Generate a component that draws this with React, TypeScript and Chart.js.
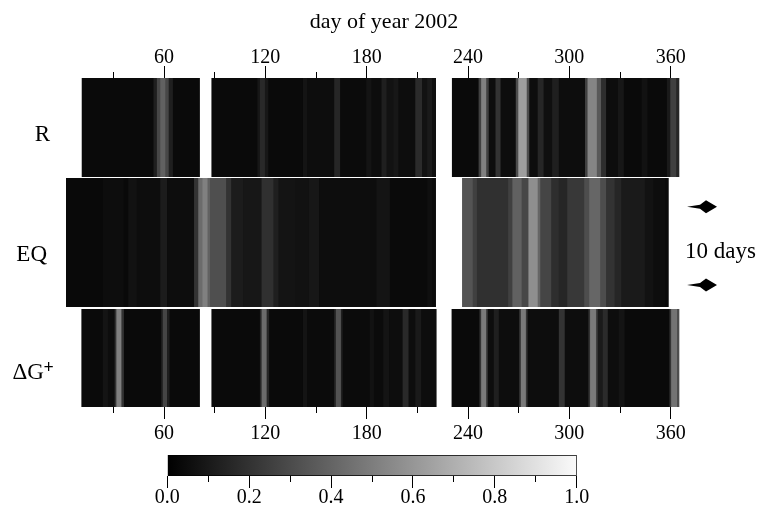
import { useEffect, useRef } from 'react';
import { Chart, registerables } from 'chart.js';

Chart.register(...registerables);

const FONT = '"Liberation Serif", "Times New Roman", serif';

// ---------------- data ----------------
const axisTitle = 'day of year 2002';
const dayTicks = [30, 60, 90, 120, 150, 180, 210, 240, 270, 300, 330, 360];
const colorbarTicks = [0, 0.1, 0.2, 0.3, 0.4, 0.5, 0.6, 0.7, 0.8, 0.9, 1.0];
const rowLabels = ['R', 'EQ', 'ΔG+'];
const sideNote = '10 days';

// [startDay, endDay, value] : covered days with their base level
const rCoverage = [[11.5, 81, 0.04], [88.3, 220.8, 0.04], [230.7, 365, 0.04]];
const eqCoverage = [[1.95, 220.7, 0.035], [236.9, 358.6, 0.04]];
const dgCoverage = [[11.3, 81, 0.04], [88.3, 221, 0.04], [230.5, 365, 0.04]];

// [startDay, endDay, value] : brighter bands
const rBands = [
  [54, 56, 0.12], [56, 58, 0.28], [58, 61, 0.38], [61, 63, 0.28], [63, 65, 0.12],
  [115.5, 117, 0.09], [117, 120, 0.16], [120, 121.5, 0.09],
  [142.5, 145, 0.08], [145, 161, 0.05], [161, 164.5, 0.15], [164.5, 180, 0.045],
  [180, 183, 0.08], [183, 189, 0.05], [189, 192, 0.12], [192, 196, 0.07], [196, 199, 0.09],
  [199, 209, 0.05], [209, 213, 0.17], [213, 216, 0.07], [216, 219, 0.1], [219, 220.8, 0.06],
  [246.5, 248, 0.25], [248, 251, 0.5], [251, 252.5, 0.25], [252.5, 256.5, 0.05],
  [256.5, 259.5, 0.2], [259.5, 268.5, 0.05], [268.5, 270, 0.3], [270, 275, 0.62],
  [275, 276.5, 0.3], [276.5, 281.5, 0.05], [281.5, 285, 0.15], [285, 290, 0.06],
  [290, 294, 0.12], [294, 309.5, 0.05], [309.5, 311, 0.25], [311, 316.5, 0.52],
  [316.5, 319, 0.35], [319, 322, 0.18], [322, 329, 0.05], [329, 332, 0.09],
  [343, 346, 0.07], [358, 360, 0.1], [360, 363.5, 0.25], [363.5, 365, 0.15],
];

const eqBands = [
  [24, 36, 0.05], [39, 44, 0.07], [44, 58, 0.05], [58, 62, 0.11],
  [62, 78, 0.05], [78, 80.5, 0.2], [80.5, 83, 0.42], [83, 86, 0.5], [86, 87.5, 0.38],
  [87.5, 97, 0.31], [97, 100, 0.2], [100, 107, 0.11], [107, 118, 0.09], [118, 125, 0.19],
  [125, 128, 0.12], [128, 138, 0.08], [138, 146, 0.07], [146, 152, 0.09], [152, 186, 0.05],
  [186, 194, 0.08], [194, 216, 0.04], [216, 219, 0.06], [219, 220.7, 0.045],
  [236.9, 243, 0.33], [243, 245.5, 0.25], [245.5, 264, 0.19], [264, 266.5, 0.25],
  [266.5, 272, 0.38], [272, 276, 0.28], [276, 281.5, 0.56], [281.5, 283, 0.4],
  [283, 289.5, 0.27], [289.5, 294, 0.18], [294, 299, 0.15], [299, 309, 0.22],
  [309, 312, 0.3], [312, 318.5, 0.4], [318.5, 322, 0.3], [322, 327, 0.2],
  [327, 331, 0.15], [331, 345, 0.1], [345, 350, 0.07], [350, 356.5, 0.05],
];

const dgBands = [
  [24, 27, 0.08], [27, 31, 0.05], [31, 32, 0.2], [32, 35, 0.5], [35, 36, 0.2],
  [58.5, 59.5, 0.12], [59.5, 62, 0.27], [62, 63, 0.12],
  [117, 118, 0.15], [118, 121, 0.42], [121, 122, 0.15], [142.5, 145, 0.08],
  [145, 161, 0.045], [161, 162, 0.15], [162, 165, 0.32], [165, 166, 0.12],
  [166, 182, 0.045], [182, 184.5, 0.07], [184.5, 190, 0.045], [190, 193.5, 0.08],
  [193.5, 201.5, 0.05], [201.5, 205, 0.16], [205, 209, 0.05], [209, 212.5, 0.1],
  [212.5, 221, 0.05],
  [247, 248, 0.2], [248, 251, 0.48], [251, 252, 0.2], [252, 255.5, 0.05],
  [255.5, 258.5, 0.12], [258.5, 270.5, 0.05], [270.5, 271.5, 0.2], [271.5, 274.5, 0.48],
  [274.5, 275.5, 0.2], [275.5, 294, 0.05], [294, 297.5, 0.2], [297.5, 311.5, 0.05],
  [311.5, 312.5, 0.2], [312.5, 316, 0.48], [316, 317, 0.25], [317, 320, 0.1],
  [320, 323, 0.17], [323, 329.5, 0.05], [329.5, 332.5, 0.08], [359.5, 360.5, 0.2],
  [360.5, 364, 0.45], [364, 365, 0.3],
];

// ---------------- layout ----------------
const rowLayout = [
  { pos: 0.1505, thickness: 99 },
  { pos: 0.5, thickness: 129 },
  { pos: 0.851, thickness: 98 },
];
const INFLATE = 0.4;
const MAJOR_DASH: number[] = [];
const MINOR_DASH = [6, 100];

function gray(v: number) {
  const g = Math.round(Math.max(0, Math.min(1, v)) * 255);
  return `rgb(${g},${g},${g})`;
}

function isMajorDay(v: number) {
  return Math.round(v) % 60 === 0;
}

const overlayPlugin = {
  id: 'overlay',
  afterDraw(chart: any) {
    const { ctx } = chart;
    ctx.save();
    ctx.fillStyle = '#000';
    ctx.textBaseline = 'alphabetic';
    ctx.textAlign = 'center';
    ctx.font = `22px ${FONT}`;
    ctx.fillText(axisTitle, 384, 28);

    ctx.font = `23px ${FONT}`;
    ctx.fillText(rowLabels[0], 42.5, 141);
    ctx.fillText(rowLabels[1], 31.7, 261);
    ctx.textAlign = 'left';
    ctx.fillText(rowLabels[2].slice(0, 2), 12.5, 379);
    ctx.font = `bold 18px ${FONT}`;
    ctx.fillText(rowLabels[2].slice(2), 43.5, 373);

    ctx.font = `23px ${FONT}`;
    ctx.fillText(sideNote, 685, 258);

    for (const cy of [206.7, 285]) {
      ctx.beginPath();
      ctx.moveTo(687, cy);
      ctx.lineTo(700, cy - 2);
      ctx.lineTo(706, cy - 6.5);
      ctx.lineTo(717, cy);
      ctx.lineTo(706, cy + 6.5);
      ctx.lineTo(700, cy + 2);
      ctx.closePath();
      ctx.fill();
    }
    ctx.restore();
  },
};

function dayAxis(position: 'top' | 'bottom') {
  const top = position === 'top';
  return {
    type: 'linear',
    position,
    min: 1.95,
    max: 365.1,
    stacked: false,
    offset: false,
    afterBuildTicks: (s: any) => {
      s.ticks = dayTicks.map((v) => ({ value: v }));
    },
    afterFit: (s: any) => {
      s.height = top ? 78 : 105;
    },
    border: { display: false },
    grid: {
      offset: false,
      drawOnChartArea: false,
      drawTicks: true,
      tickLength: 12,
      tickColor: '#000',
      tickWidth: 1,
      tickBorderDash: (c: any) => {
        const v = c.tick ? c.tick.value : dayTicks[c.index];
        return isMajorDay(v) ? MAJOR_DASH : MINOR_DASH;
      },
      tickBorderDashOffset: (c: any) => {
        const v = c.tick ? c.tick.value : dayTicks[c.index];
        return top && !isMajorDay(v) ? 100 : 0;
      },
    },
    ticks: {
      autoSkip: false,
      maxTicksLimit: 100,
      maxRotation: 0,
      minRotation: 0,
      color: '#000',
      padding: top ? -2 : 5,
      font: { family: FONT, size: 20, lineHeight: 1 },
      callback: (v: number) => (isMajorDay(v) ? String(v) : ''),
    },
  };
}

function mainConfig(): any {
  const sets = [
    [rCoverage, rBands],
    [eqCoverage, eqBands],
    [dgCoverage, dgBands],
  ];
  return {
    type: 'bar',
    data: {
      datasets: sets.map(([cov, bands], i) => ({
        label: rowLabels[i],
        data: [...cov, ...bands].map(([s, e, v]) => ({ x: [s, e], y: rowLayout[i].pos, v })),
        backgroundColor: (c: any) => gray(c.raw ? c.raw.v : 0),
        borderWidth: 0,
        barThickness: rowLayout[i].thickness - 2 * INFLATE,
        inflateAmount: INFLATE,
        stack: 'strip',
      })),
    },
    options: {
      indexAxis: 'y',
      responsive: false,
      animation: false,
      devicePixelRatio: 1,
      layout: { padding: { left: 66, right: 77.7, top: 0, bottom: 0 } },
      plugins: { legend: { display: false }, tooltip: { enabled: false } },
      scales: {
        x: dayAxis('bottom'),
        x2: dayAxis('top'),
        y: { type: 'linear', min: 0, max: 1, reverse: true, offset: false, display: false },
      },
    },
    plugins: [overlayPlugin],
  };
}

function isMajorBar(v: number) {
  return Math.round(v * 10) % 2 === 0;
}

function colorbarConfig(): any {
  return {
    type: 'bar',
    data: {
      labels: ['scale'],
      datasets: [
        {
          data: [[colorbarTicks[0], colorbarTicks[colorbarTicks.length - 1]]],
          backgroundColor: (c: any) => {
            const chart = c.chart;
            const xs = chart.scales && chart.scales.x;
            if (!xs || !chart.chartArea) return '#000';
            const g = chart.ctx.createLinearGradient(xs.getPixelForValue(0), 0, xs.getPixelForValue(1), 0);
            g.addColorStop(0, gray(0));
            g.addColorStop(1, gray(0.98));
            return g;
          },
          borderColor: '#000',
          borderWidth: 1,
          borderSkipped: false,
          barPercentage: 1,
          categoryPercentage: 1,
        },
      ],
    },
    options: {
      indexAxis: 'y',
      responsive: false,
      animation: false,
      devicePixelRatio: 1,
      layout: { padding: { left: 167.3, right: 180.3, top: 455, bottom: 0 } },
      plugins: { legend: { display: false }, tooltip: { enabled: false } },
      scales: {
        x: {
          type: 'linear',
          min: 0,
          max: 1,
          afterBuildTicks: (s: any) => {
            s.ticks = colorbarTicks.map((v) => ({ value: v }));
          },
          afterFit: (s: any) => {
            s.height = 36;
          },
          border: { display: false },
          grid: {
            drawOnChartArea: false,
            drawTicks: true,
            tickLength: 12,
            tickColor: '#000',
            tickWidth: 1,
            tickBorderDash: (c: any) => {
              const v = c.tick ? c.tick.value : colorbarTicks[c.index];
              return isMajorBar(v) ? MAJOR_DASH : MINOR_DASH;
            },
          },
          ticks: {
            autoSkip: false,
            maxTicksLimit: 100,
            maxRotation: 0,
            color: '#000',
            padding: 0,
            font: { family: FONT, size: 20, lineHeight: 1 },
            callback: (v: number) => (isMajorBar(v) ? v.toFixed(1) : ''),
          },
        },
        y: { display: false },
      },
    },
  };
}

export default function App() {
  const mainRef = useRef<HTMLCanvasElement>(null);
  const cbRef = useRef<HTMLCanvasElement>(null);

  useEffect(() => {
    const main = new Chart(mainRef.current as HTMLCanvasElement, mainConfig());
    const cb = new Chart(cbRef.current as HTMLCanvasElement, colorbarConfig());
    return () => {
      main.destroy();
      cb.destroy();
    };
  }, []);

  return (
    <div style={{ position: 'absolute', left: 0, top: 0, width: 757, height: 512, background: '#fff' }}>
      <canvas ref={mainRef} width={757} height={512} style={{ position: 'absolute', left: 0, top: 0 }} />
      <canvas ref={cbRef} width={757} height={512} style={{ position: 'absolute', left: 0, top: 0 }} />
    </div>
  );
}
